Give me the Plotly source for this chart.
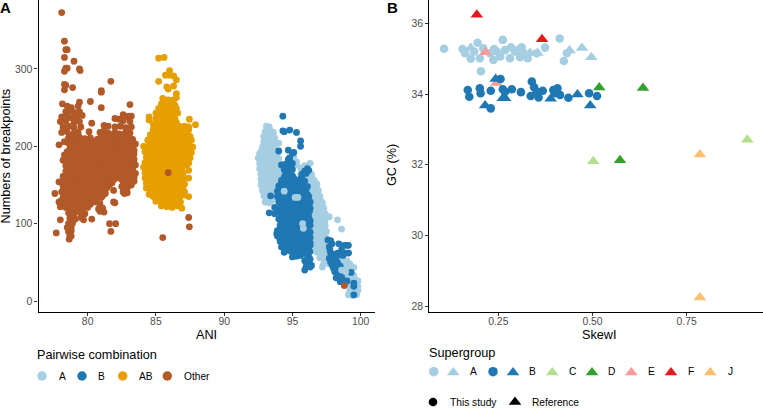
import plotly.graph_objects as go

# panel A, values as (ANI, breakpoints)
a_pts = [
    (93.1,226),(93.3,225),(93.0,219),(93.4,220),(93.6,218),(92.9,213),(93.2,212),(93.5,213),(93.7,211),
    (92.9,206),(93.2,205),(93.5,206),(93.7,204),(94.0,204),(92.8,199),(93.1,198),(93.4,199),(93.7,197),
    (92.6,191),(92.9,192),(93.2,191),(93.5,190),(93.8,191),(92.5,185),(92.8,184),(93.1,185),(93.4,184),(93.7,183),(94.0,184),
    (92.6,178),(92.9,177),(93.2,178),(93.5,177),(93.8,176),(94.1,177),(95.1,186),(95.3,180),(96.3,178),(95.9,175),
    (92.6,171),(92.9,170),(93.2,171),(93.5,170),(93.8,169),(94.1,170),(94.4,171),(95.6,172),(96.0,170),(95.3,176),
    (92.7,164),(93.0,163),(93.3,164),(93.6,163),(93.9,162),(94.2,163),(94.5,164),(95.6,164),(96.0,163),(96.4,164),
    (92.7,157),(93.0,156),(93.3,157),(93.6,156),(93.9,155),(94.2,156),(94.5,157),(96.0,156),(96.3,155),(96.6,156),
    (92.7,150),(93.0,149),(93.3,150),(93.6,149),(93.9,148),(94.2,149),(96.1,149),(96.5,150),(96.8,151),
    (92.8,143),(93.1,142),(93.4,143),(93.7,142),(94.0,141),(96.2,143),(96.5,142),(96.9,143),
    (92.9,136),(93.2,135),(93.5,136),(93.8,135),(96.2,136),(96.6,135),(97.0,136),
    (93.0,128),(93.3,127),(93.5,130),(96.3,128),(96.6,127),(96.9,128),(97.2,127),
    (96.3,121),(96.6,120),(96.9,121),(97.3,120),(96.4,114),(96.7,113),(97.0,114),(97.4,113),
    (96.4,106),(96.7,105),(97.0,106),(97.4,105),(96.4,99),(96.7,98),(97.0,99),(97.4,98),
    (96.4,91),(96.7,90),(97.1,91),(97.5,90),(96.4,84),(96.7,83),(97.1,84),(97.4,83),
    (96.5,77),(96.8,76),(97.1,77),(97.5,76),(96.7,70),(97.0,69),(97.3,70),(97.6,69),
    (96.8,63),(97.1,62),(97.4,63),(97.7,62),(97.0,56),(97.3,55),(97.6,56),(98.1,57),(98.4,55),(98.7,56),
    (97.3,49),(97.7,48),(98.0,49),(98.4,48),(98.8,49),(99.2,48),(97.2,44),
    (98.0,42),(98.4,41),(98.8,42),(99.1,41),(99.5,43),(98.6,35),(99.0,34),(99.3,35),(99.5,33),
    (99.0,28),(99.3,27),(99.6,28),(99.8,26),(99.0,21),(99.3,20),(99.6,21),(99.8,19),
    (99.2,14),(99.5,13),(99.8,14),(99.1,8),(99.4,7),(99.7,8),
    (97.7,109),(98.3,105),(98.6,93),
    # inner dots
    (93.3,216),(93.1,209),(93.35,209),(93.05,202),(93.3,202),(93.55,201),(92.75,195),(93.05,195),(93.35,195),(93.6,194),
    (92.7,188),(93.0,188),(93.3,188),(93.6,187),(93.85,187),(92.75,181),(93.05,181),(93.35,181),(93.65,180),(93.95,180),
    (92.75,174),(93.05,174),(93.35,174),(93.65,173),(93.95,173),(94.25,174),(92.85,167),(93.15,167),(93.45,167),(93.75,166),(94.05,166),(94.35,167),
    (92.85,160),(93.15,160),(93.45,160),(93.75,159),(94.05,159),(94.35,160),(92.85,153),(93.15,153),(93.45,153),(93.75,152),(94.05,152),(94.35,153),
    (92.95,146),(93.25,146),(93.55,146),(93.85,145),(94.15,146),(93.05,139),(93.35,139),(93.65,139),(93.15,132),(93.4,132),
    (96.4,160),(96.2,160),(96.35,146),(96.7,146),(96.4,139),(96.8,139),(96.45,131),(96.75,131),(97.05,131),(96.5,124),(96.75,124),(97.1,124),
    (96.55,117),(96.85,117),(97.2,117),(96.55,110),(96.85,110),(97.2,110),(96.55,102),(96.85,102),(97.2,102),(96.55,95),(96.85,95),(97.25,94),
    (96.55,87),(96.9,87),(97.3,87),(96.65,80),(96.95,80),(97.3,80),(96.65,73),(96.9,73),(97.3,73),(97.0,66),(97.2,66),(97.5,66),(97.2,59),(97.5,59),
    (98.2,52),(98.6,52),(99.0,52),(98.2,45),(98.6,45),(99.0,45),(99.3,45),(98.9,38),(99.2,38),(99.15,31),(99.45,31),(99.15,24),(99.45,24),(99.3,17),(99.6,17),(99.3,10),(99.55,10),
]
b_pts = [
    (94.3,239),(94.3,220),(94.4,219),(94.8,221),(95.3,218),(95.6,207),(95.6,200),(94.0,194),(94.7,195),(95.1,192),(95.0,191),
    (94.7,183),(94.8,185),(94.5,177),(94.8,176),(95.0,178),(94.2,176),(94.4,170),(94.7,169),(95.0,170),(96.1,171),(96.2,169),(95.9,168),
    (94.6,163),(95.0,162),(95.7,164),(96.0,165),(94.2,156),(94.5,157),(94.9,155),(95.3,156),(95.9,155),(95.6,158),
    (94.0,149),(94.4,150),(94.8,148),(95.2,149),(95.7,150),(96.1,148),(93.9,142),(94.3,143),(94.7,141),(95.1,142),(95.5,143),(95.9,141),
    (93.4,136),(93.9,135),(94.3,136),(94.7,134),(95.1,135),(95.5,136),(95.9,134),(96.2,135),
    (94.0,128),(94.4,127),(94.8,129),(95.2,127),(95.6,128),(96.0,127),(96.3,128),
    (93.7,121),(94.1,120),(94.5,121),(94.9,119),(95.3,120),(95.7,121),(96.1,119),(96.3,120),
    (93.3,114),(93.7,113),(94.1,114),(94.5,112),(94.9,113),(95.3,114),(95.7,112),(96.1,113),
    (94.0,106),(94.4,105),(94.8,106),(95.2,104),(95.6,105),(96.0,106),(96.3,104),
    (94.1,98),(94.5,99),(94.9,97),(95.3,98),(95.7,99),(96.1,97),(96.3,98),
    (93.9,91),(94.3,90),(94.7,91),(95.1,89),(95.5,90),(95.9,91),(96.3,89),
    (93.85,87),(93.9,84),(94.3,83),(94.7,84),(95.1,82),(95.5,83),(95.9,84),(96.3,82),
    (94.1,77),(94.5,76),(94.9,77),(95.3,75),(95.7,76),(96.1,77),(96.3,75),
    (94.2,70),(94.6,69),(95.0,70),(95.4,68),(95.8,69),(96.2,70),(94.4,63),(94.9,64),(95.2,62),(95.6,63),(96.0,62),(96.3,64),
    (95.0,57),(95.3,58),(95.6,59),(96.2,57),(96.3,54),(95.9,52),(96.2,50),(96.0,44),(96.3,44),(96.4,46),(95.9,40),
    (97.6,79),(97.8,78),(97.7,70),(97.8,62),(97.7,55),(98.4,74),(98.8,72),(99.1,72),(98.3,62),(98.7,59),(99.1,62),(98.0,60),
    (97.8,50),(98.0,43),(98.3,36),(97.9,47),(98.2,30),(98.5,25),(98.8,22),(99.0,26),(98.5,45),(98.3,50),(98.6,33),
    (99.3,37),(99.5,23),(99.5,19),(99.5,8),(99.0,72),(99.1,62),
    # inner dots
    (94.6,173),(94.9,173),(94.5,166),(94.8,166),(94.4,160),(94.8,159),(95.1,159),(95.7,159),(94.2,153),(94.6,153),(95.0,152),(95.4,152),(95.8,153),
    (94.2,146),(94.6,146),(95.0,145),(95.4,146),(95.8,146),(96.0,145),(94.1,139),(94.5,139),(94.9,138),(95.3,139),(95.7,139),(96.1,138),
    (94.1,131),(94.5,132),(94.9,131),(95.3,132),(95.7,131),(96.1,131),(94.2,124),(94.6,124),(95.0,123),(95.4,124),(95.8,124),(96.2,124),
    (93.9,117),(94.3,117),(94.7,116),(95.1,117),(95.5,117),(95.9,116),(96.25,116),(94.2,109),(94.6,109),(95.0,109),(95.4,109),(95.8,109),(96.2,109),
    (94.2,102),(94.6,102),(95.0,101),(95.4,102),(95.8,103),(96.2,102),(94.1,94),(94.5,94),(94.9,94),(95.3,94),(95.6,94),(96.1,94),
    (94.1,87),(94.5,87),(94.9,87),(95.3,86),(95.7,87),(96.1,87),(94.1,80),(94.5,80),(94.9,80),(95.3,79),(95.7,80),(96.1,80),
    (94.35,73),(94.8,73),(95.2,72),(95.6,73),(96.0,73),(96.3,72),(94.6,66),(95.1,66),(95.5,66),(95.9,66),(96.15,65),(95.3,60),(96.1,59),(96.1,54),(96.05,48),
    (97.75,66),(97.9,74),(98.2,56),(98.5,60),(98.9,62),(98.6,66),(98.0,54),(98.1,38),(98.3,42),(98.45,30),(98.7,27),
]
# the few light dots that sit on top of the dark ones
a_top_pts = [(94.4,142),(95.75,100),(95.8,94),(95.2,134),(95.4,134),(96.8,95),(98.6,40),(98.9,38)]
ab_pts = [
    (85.2,314),(85.6,315),(86.0,298),(85.7,292),(86.0,292),(86.3,291),(86.5,286),(85.2,284),(85.8,277),(85.9,274),(86.3,278),(86.5,268),(86.5,263),
    (85.5,262),(85.9,260),(86.3,260),(85.4,255),(85.7,254),(86.1,255),(86.4,253),
    (85.2,249),(85.6,248),(85.9,249),(86.2,247),(86.5,249),(85.0,243),(85.3,242),(85.7,243),(86.0,241),(86.3,242),(86.6,243),
    (84.5,238),(84.5,234),(85.0,236),(85.4,235),(85.8,236),(86.1,234),(86.4,235),(87.45,235),
    (84.8,229),(85.2,228),(85.6,229),(85.9,227),(86.3,228),(86.7,226),(87.1,226),(87.4,225),(87.9,228),
    (84.8,222),(85.1,221),(85.5,222),(85.9,220),(86.3,221),(86.7,219),(87.0,220),(87.4,221),
    (84.6,215),(85.0,214),(85.4,215),(85.8,213),(86.2,214),(86.6,213),(87.0,214),(87.5,213),
    (84.4,208),(84.8,207),(85.2,208),(85.6,206),(86.0,207),(86.4,206),(86.8,207),(87.2,206),(87.6,208),
    (84.1,200),(84.5,201),(84.9,199),(85.3,200),(85.7,199),(86.1,201),(86.5,199),(86.9,200),(87.3,201),(87.7,199),
    (84.2,193),(84.6,194),(85.0,192),(85.4,193),(85.8,192),(86.2,194),(86.6,192),(87.0,193),(87.4,194),(87.6,192),
    (84.3,186),(84.7,187),(85.1,185),(85.5,186),(85.9,185),(86.3,187),(86.7,185),(87.1,186),(87.5,185),
    (84.2,179),(84.6,180),(85.0,178),(85.4,179),(85.8,178),(86.2,180),(86.6,178),(87.0,179),(87.4,178),
    (84.1,173),(84.5,172),(84.9,171),(85.3,172),(85.7,171),(86.1,173),(86.5,171),(86.9,172),(87.4,169),
    (84.2,166),(84.6,165),(85.0,164),(85.4,165),(85.8,164),(86.2,166),(86.6,164),(87.0,165),
    (84.2,159),(84.6,158),(85.0,157),(85.4,158),(85.8,157),(86.2,159),(86.6,157),(87.0,158),(87.4,159),
    (84.3,152),(84.7,151),(85.1,150),(85.5,151),(85.9,150),(86.3,152),(86.7,150),(87.1,151),
    (84.3,146),(84.6,144),(85.0,143),(85.4,144),(85.8,143),(86.2,145),(86.6,143),(87.0,144),
    (84.5,138),(84.8,135),(85.2,137),(85.6,136),(86.0,135),(86.4,137),(86.8,136),(87.1,137),(87.4,135),
    (85.0,129),(85.3,130),(85.7,128),(86.1,129),(86.5,130),(86.8,128),(85.4,123),(85.8,122),(86.2,121),(86.6,123),(86.9,120),
    # inner dots
    (85.7,258),(86.1,258),(85.5,245),(85.8,245),(86.1,245),(86.4,245),(85.2,239),(85.6,238),(85.9,239),(86.3,238),(85.1,232),(85.4,232),(85.8,231),(86.2,232),(86.5,231),
    (85.0,225),(85.4,225),(85.8,224),(86.1,225),(86.5,224),(86.9,223),(87.2,223),(84.8,218),(85.2,218),(85.6,217),(86.0,218),(86.4,217),(86.8,216),(87.2,217),
    (84.6,211),(85.0,211),(85.4,211),(85.8,210),(86.2,211),(86.6,210),(87.0,210),(87.4,210),(84.6,204),(85.0,204),(85.4,204),(85.8,203),(86.2,204),(86.6,203),(87.0,203),(87.4,204),
    (84.4,197),(84.8,197),(85.2,196),(85.6,196),(86.0,197),(86.4,196),(86.8,196),(87.2,197),(87.5,196),(84.5,190),(84.9,190),(85.3,189),(85.7,189),(86.1,190),(86.5,189),(86.9,189),(87.3,190),
    (84.4,183),(84.8,183),(85.2,182),(85.6,182),(86.0,183),(86.4,182),(86.8,182),(87.2,183),(84.4,176),(84.8,176),(85.2,175),(85.6,175),(86.0,176),(86.4,175),(86.8,175),(87.2,176),
    (84.3,169),(84.7,168),(85.1,168),(85.5,168),(86.3,169),(86.7,168),(84.4,162),(84.8,161),(85.2,161),(85.6,161),(86.0,162),(86.4,161),(86.8,161),
    (84.4,155),(84.8,154),(85.2,154),(85.6,154),(86.0,155),(86.4,154),(86.9,154),(84.5,148),(84.9,147),(85.2,147),(85.6,147),(86.0,148),(86.4,147),(86.9,147),
    (84.7,141),(85.0,140),(85.4,140),(85.8,140),(86.2,140),(86.6,140),(87.1,141),(85.1,133),(85.5,133),(85.9,132),(86.3,133),(86.7,132),(85.5,126),(85.9,125),(86.3,126),(86.7,126),
]
other_pts = [
    (78.1,373),(78.3,336),(78.4,325),(78.5,325),(78.3,315),(79.0,310),(78.4,301),(78.5,301),(78.3,297),(79.4,300),(79.45,298),
    (78.3,280),(78.4,279),(78.3,273),(78.9,276),(81.7,284),(81.0,272),(81.0,270),(80.2,258),(83.1,254),(81.0,250),
    (78.15,255),(79.4,257),(79.3,252),(78.5,252),(78.8,250),(78.4,245),(78.7,246),(79.0,244),(79.4,245),
    (78.1,238),(78.5,239),(78.8,237),(79.2,238),(79.6,240),(82.6,241),(83.0,239),(82.9,238),(83.2,239),
    (78.0,232),(78.4,233),(79.0,231),(79.4,232),(82.0,236),(82.3,235),(82.6,233),(83.1,232),
    (78.2,225),(78.6,226),(79.0,224),(79.5,225),(80.3,230),(81.2,227),(81.5,226),(82.0,225),(82.4,226),(82.8,224),(83.2,225),
    (78.1,218),(78.5,219),(79.0,217),(79.3,218),(80.1,219),(80.9,218),(81.2,220),(81.5,217),(82.0,218),(82.3,216),(82.8,219),(83.1,217),
    (78.6,211),(79.0,210),(79.4,212),(79.8,210),(80.2,211),(80.7,209),(81.0,212),(81.4,210),(81.8,209),(82.2,211),(82.6,210),(83.0,212),(83.3,209),
    (77.9,202),(78.3,206),(78.6,204),(79.0,203),(79.4,205),(79.8,203),(80.2,204),(80.6,202),(81.0,205),(81.4,203),(81.8,202),(82.2,204),(82.6,203),(83.0,205),(83.5,203),
    (78.7,197),(79.1,196),(79.5,198),(79.9,196),(80.3,197),(80.7,195),(81.1,198),(81.5,196),(81.9,195),(82.3,197),(82.7,196),(83.1,198),(83.4,195),
    (78.3,189),(78.7,190),(79.1,188),(79.5,189),(79.9,187),(80.3,190),(80.7,188),(81.1,189),(81.5,187),(81.9,190),(82.3,188),(82.7,189),(83.1,187),(83.4,190),
    (78.2,182),(78.6,183),(79.0,181),(79.4,182),(79.8,180),(80.2,183),(80.6,181),(81.0,182),(81.4,180),(81.8,183),(82.2,181),(82.6,182),(83.0,180),(83.4,183),
    (78.4,175),(78.8,176),(79.2,174),(79.6,175),(80.0,173),(80.4,176),(80.8,174),(81.2,175),(81.6,173),(82.0,176),(82.4,174),(82.8,175),(83.2,173),(83.5,176),
    (78.4,168),(78.8,169),(79.2,167),(79.6,168),(80.0,166),(80.4,169),(80.8,167),(81.2,168),(81.6,166),(82.0,169),(82.4,167),(82.8,168),(83.2,166),(83.5,165),
    (78.2,161),(78.6,162),(79.0,160),(79.4,161),(79.8,159),(80.2,162),(80.6,160),(81.0,161),(81.4,159),(81.8,162),(82.2,160),(82.7,161),(83.1,159),(83.4,160),
    (77.9,154),(78.2,155),(78.6,153),(79.0,154),(79.4,152),(79.8,155),(80.2,153),(80.6,154),(81.0,152),(81.4,155),(81.8,153),(82.6,154),(83.0,152),(83.4,155),
    (78.2,148),(78.6,147),(79.0,146),(79.4,148),(79.8,146),(80.2,147),(80.6,145),(81.0,148),(81.4,146),(82.5,148),(82.9,146),(83.2,150),
    (78.1,141),(78.5,140),(78.9,139),(79.3,141),(79.7,139),(80.1,140),(80.5,138),(80.9,141),(81.3,139),(81.9,143),(82.6,141),(82.9,140),(77.6,139),
    (78.2,134),(78.6,133),(79.0,132),(79.4,134),(79.8,132),(80.2,133),(80.6,131),(81.0,134),(81.1,136),(82.7,139),
    (77.9,128),(78.3,127),(78.7,126),(79.1,128),(79.5,126),(79.9,127),(80.2,125),(80.6,128),(80.9,126),(81.9,128),(82.0,127),
    (78.0,122),(78.4,121),(78.8,120),(79.2,122),(79.6,120),(80.0,121),(80.8,119),(81.1,120),
    (78.6,114),(79.0,113),(79.4,115),(79.8,113),(80.9,116),(81.2,115),(78.7,107),(79.1,106),(79.5,108),(79.7,105),(80.3,106),(78.0,105),
    (78.6,100),(78.9,101),(81.6,100),(82.05,100),(78.5,95),(78.8,96),(78.6,90),(78.8,91),(78.7,85),(81.7,90),(77.7,88),
    (78.65,80),(78.8,84),(85.9,166),(87.4,108),(87.45,96),(85.5,82),(98.8,20),
    # inner dots
    (78.8,214),(79.2,215),(81.0,215),(81.3,214),(81.7,215),(82.1,214),(82.5,215),(82.9,214),
    (78.8,207),(79.2,207),(79.6,208),(80.0,207),(80.4,206),(80.85,206),(81.2,207),(81.6,206),(82.0,207),(82.4,206),(82.8,207),(83.2,206),
    (78.9,200),(79.3,200),(79.7,201),(80.1,200),(80.5,199),(80.9,200),(81.3,200),(81.7,199),(82.1,200),(82.5,199),(82.9,200),(83.3,200),
    (78.5,193),(78.9,193),(79.3,193),(79.7,192),(80.1,193),(80.5,192),(80.9,193),(81.3,192),(81.7,193),(82.1,192),(82.5,193),(82.9,192),(83.3,193),
    (78.4,186),(78.8,186),(79.2,185),(79.6,186),(80.0,185),(80.4,186),(80.8,185),(81.2,186),(81.6,185),(82.0,186),(82.4,185),(82.8,186),(83.2,185),
    (78.5,179),(78.9,179),(79.3,178),(79.7,179),(80.1,178),(80.5,179),(80.9,178),(81.3,179),(81.7,178),(82.1,179),(82.5,178),(82.9,179),(83.3,178),
    (78.6,172),(79.0,172),(79.4,171),(79.8,172),(80.2,171),(80.6,172),(81.0,171),(81.4,172),(81.8,171),(82.2,172),(82.6,171),(83.0,172),(83.3,171),
    (78.5,165),(78.9,165),(79.3,164),(79.7,165),(80.1,164),(80.5,165),(80.9,164),(81.3,165),(81.7,164),(82.1,165),(82.5,164),(82.9,165),(83.3,164),
    (78.4,158),(78.8,158),(79.2,157),(79.6,158),(80.0,157),(80.4,158),(80.8,157),(81.2,158),(81.6,157),(82.0,158),(82.5,157),(82.9,158),(83.3,157),
    (78.4,151),(78.8,151),(79.2,150),(79.6,151),(80.0,150),(80.4,151),(80.8,150),(81.2,151),(81.6,150),(82.8,151),
    (78.4,144),(78.8,144),(79.2,143),(79.6,144),(80.0,143),(80.4,144),(80.8,143),(81.2,144),(78.3,137),(78.7,137),(79.1,136),(79.5,137),(79.9,136),(80.3,137),(80.7,136),
    (78.1,130),(78.5,130),(78.9,129),(79.3,130),(79.7,129),(80.4,130),(78.2,124),(78.6,123),(79.0,123),(79.4,124),(79.8,123),(78.8,117),(79.2,117),(79.6,118),
]

# panel B, (SkewI, GC %)
sg_a_study_pts = [
    (0.106,35.29),(0.155,35.28),(0.162,35.16),(0.177,35.01),(0.195,35.46),(0.201,35.02),(0.210,35.30),(0.204,34.65),
    (0.237,34.97),(0.239,35.28),(0.255,35.07),(0.262,35.54),(0.268,35.25),(0.284,35.33),(0.281,35.02),(0.294,35.21),
    (0.312,35.33),(0.308,35.05),(0.316,35.18),(0.328,35.02),(0.352,35.16),(0.374,35.32),(0.413,35.58),(0.424,34.94),(0.432,35.16),
    (0.228,35.16),(0.246,35.21),(0.303,35.25),(0.186,35.21),
]
sg_a_ref_pts = [(0.177,35.31),(0.334,35.17),(0.354,35.17),(0.439,35.24),(0.472,35.31),(0.497,35.05)]
sg_b_study_pts = [
    (0.169,34.12),(0.173,33.93),(0.201,34.17),(0.203,34.03),(0.230,34.10),(0.256,34.43),(0.230,33.60),(0.262,34.14),(0.268,34.07),
    (0.286,34.14),(0.310,34.06),(0.339,34.36),(0.345,34.20),(0.336,33.95),(0.352,34.07),(0.357,33.91),(0.368,34.10),
    (0.396,34.12),(0.407,34.17),(0.401,34.03),(0.414,33.98),(0.436,33.90),(0.491,34.03),(0.512,33.95),
]
sg_b_ref_pts = [(0.215,33.68),(0.243,34.43),(0.262,33.89),(0.268,33.89),(0.389,33.87),(0.460,33.99),(0.494,33.68)]
sg_c_ref_pts = [(0.502,32.10),(0.911,32.71)]
sg_d_ref_pts = [(0.518,34.19),(0.634,34.18),(0.573,32.13)]
sg_e_ref_pts = [(0.216,35.19),(0.245,34.32)]
sg_f_ref_pts = [(0.193,36.25),(0.366,35.56)]
sg_j_ref_pts = [(0.785,32.29),(0.785,28.24)]

COL_A, COL_B, COL_AB, COL_OTHER = "#A6CEE3", "#1F78B4", "#E69F00", "#B15928"
COL_C, COL_D, COL_E, COL_F, COL_J = "#B2DF8A", "#33A02C", "#FB9A99", "#E31A1C", "#FDBF6F"
FONT = "Liberation Sans"
DOT, CIRCLE, TRI = 6.8, 8.6, 11

fig = go.Figure()


def add_pts(pts, color, size, symbol, xa, ya):
    fig.add_trace(go.Scatter(
        x=[p[0] for p in pts], y=[p[1] for p in pts], mode="markers", xaxis=xa, yaxis=ya,
        marker=dict(color=color, size=size, symbol=symbol, line=dict(width=0)),
        hoverinfo="skip", showlegend=False))


add_pts(a_pts, COL_A, DOT, "circle", "x", "y")
add_pts(b_pts, COL_B, DOT, "circle", "x", "y")
add_pts(a_top_pts, COL_A, DOT, "circle", "x", "y")
add_pts(ab_pts, COL_AB, DOT, "circle", "x", "y")
add_pts(other_pts, COL_OTHER, DOT, "circle", "x", "y")

add_pts(sg_e_ref_pts, COL_E, TRI, "triangle-up", "x2", "y2")
add_pts(sg_a_study_pts, COL_A, CIRCLE, "circle", "x2", "y2")
add_pts(sg_a_ref_pts, COL_A, TRI, "triangle-up", "x2", "y2")
add_pts(sg_e_ref_pts[:1], COL_E, TRI, "triangle-up", "x2", "y2")
add_pts(sg_b_study_pts, COL_B, CIRCLE, "circle", "x2", "y2")
add_pts(sg_b_ref_pts, COL_B, TRI, "triangle-up", "x2", "y2")
add_pts(sg_c_ref_pts, COL_C, TRI, "triangle-up", "x2", "y2")
add_pts(sg_d_ref_pts, COL_D, TRI, "triangle-up", "x2", "y2")
add_pts(sg_f_ref_pts, COL_F, TRI, "triangle-up", "x2", "y2")
add_pts(sg_j_ref_pts, COL_J, TRI, "triangle-up", "x2", "y2")

# legends are drawn by hand on a full-page axis counted in pixels
LEG_Y_A, LEG_Y_B, LEG_Y_S = 376, 371.7, 402
for x, color in [(42, COL_A), (82, COL_B), (122.7, COL_AB), (167.3, COL_OTHER)]:
    add_pts([(x, LEG_Y_A)], color, 9.5, "circle", "x3", "y3")
for x, color in [(433.7, COL_A), (493, COL_B)]:
    add_pts([(x, LEG_Y_B)], color, 9.5, "circle", "x3", "y3")
for x, color in [(453.3, COL_A), (513, COL_B), (552.3, COL_C), (592, COL_D), (631.3, COL_E), (671, COL_F), (710.3, COL_J)]:
    add_pts([(x, LEG_Y_B + 0.8)], color, TRI, "triangle-up", "x3", "y3")
add_pts([(433, LEG_Y_S)], "black", 8.6, "circle", "x3", "y3")
add_pts([(515, LEG_Y_S)], "black", TRI, "triangle-up", "x3", "y3")


def label(x, y, text, size, anchor="left", color="black", bold=False, angle=0):
    fig.add_annotation(x=x, y=y, xref="x3", yref="y3", text=f"<b>{text}</b>" if bold else text, showarrow=False,
                       xanchor=anchor, yanchor="middle", textangle=angle, borderpad=0, borderwidth=0,
                       font=dict(family=FONT, size=size, color=color))


label(0, 7, "A", 15, bold=True)
label(387, 7, "B", 15, bold=True)
label(206.7, 335, "ANI", 12.7, "center")
label(5.5, 156, "Numbers of breakpoints", 12.7, "center", angle=-90)
label(599, 335, "SkewI", 12.7, "center")
label(392, 165, "GC (%)", 12.7, "center", angle=-90)
label(37, 355, "Pairwise combination", 12.7)
label(429, 352.7, "Supergroup", 12.7)
for x, t in [(62, "A"), (101.7, "B"), (145.7, "AB")]:
    label(x, LEG_Y_A, t, 10.2, "center")
label(183.7, LEG_Y_A, "Other", 10.2)
for x, t in [(473.3, "A"), (532.3, "B"), (572, "C"), (611.3, "D"), (651, "E"), (690.7, "F"), (730.3, "J")]:
    label(x, LEG_Y_B, t, 10.2, "center")
label(450, LEG_Y_S, "This study", 10.2)
label(531.7, LEG_Y_S, "Reference", 10.2)

axis_style = dict(showgrid=False, zeroline=False, showline=True, linecolor="black", linewidth=1.2,
                  ticks="outside", ticklen=3, tickwidth=1, tickcolor="#333333", ticklabelstandoff=-3,
                  tickfont=dict(family=FONT, size=10.4, color="#4d4d4d"))
y_axis_style = {**axis_style, "ticklabelstandoff": 0}
y_domain = [1 - 311.7 / 408, 1]
fig.update_layout(
    width=763, height=408, margin=dict(l=0, r=0, t=0, b=0), autosize=False,
    plot_bgcolor="rgba(0,0,0,0)", paper_bgcolor="white", showlegend=False,
    xaxis=dict(domain=[38.5 / 763, 375 / 763], range=[76.4, 101.05], tickvals=[80, 85, 90, 95, 100], anchor="y", **axis_style),
    yaxis=dict(domain=y_domain, range=[-13.8, 389.2], tickvals=[0, 100, 200, 300], anchor="x", **y_axis_style),
    xaxis2=dict(domain=[429.3 / 763, 1], range=[0.0669, 0.9525], tickvals=[0.25, 0.5, 0.75], ticktext=["0.25", "0.50", "0.75"], anchor="y2", **axis_style),
    yaxis2=dict(domain=y_domain, range=[27.84, 36.67], tickvals=[28, 30, 32, 34, 36], anchor="x2", **y_axis_style),
    xaxis3=dict(domain=[0, 1], range=[0, 763], visible=False, anchor="y3"),
    yaxis3=dict(domain=[0, 1], range=[408, 0], visible=False, anchor="x3"),
)

# the page's default body margin would push the figure off the window
fig.write_html("out.html", config=dict(displayModeBar=False),
               post_script="document.body.style.margin='0';document.body.style.overflow='hidden';")
